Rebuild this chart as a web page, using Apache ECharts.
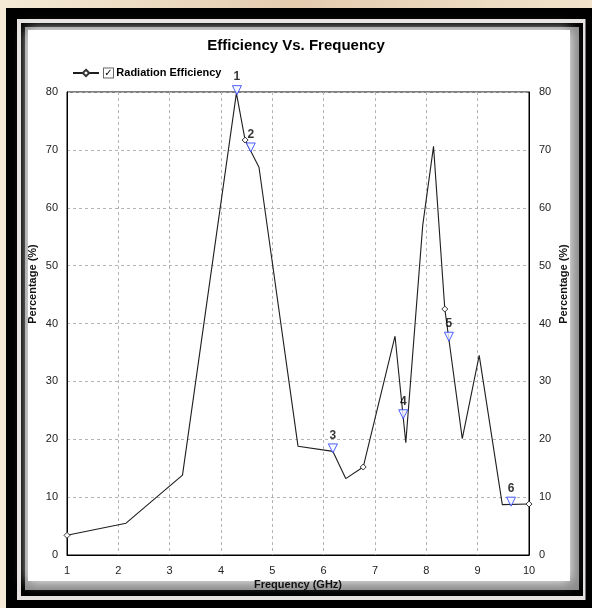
<!DOCTYPE html>
<html><head><meta charset="utf-8">
<script src="https://cdn.jsdelivr.net/npm/echarts@6/dist/echarts.min.js"></script>
<style>html,body{margin:0;padding:0;background:#f1e4cc;}#c{width:592px;height:608px;}</style>
</head><body><div id="c"></div>
<script>
// Data
const freq = [1, 2.15, 3.25, 4.3, 4.47, 4.74, 5.5, 6.18, 6.43, 6.77, 7.39, 7.6, 7.93, 8.14, 8.36, 8.7, 9.03, 9.48, 10];
const eff  = [3.4, 5.5, 13.8, 79.8, 71.7, 67.0, 18.8, 17.9, 13.2, 15.2, 37.8, 19.4, 57.0, 70.6, 42.5, 20.1, 34.5, 8.7, 8.8];
const sampledIdx = [0, 4, 9, 14, 18];           // points drawn with a diamond
const markerFreq = [4.31, 4.58, 6.18, 7.55, 8.44, 9.65];
const markerEff  = [79.8, 69.9, 17.9, 23.8, 37.2, 8.7];
const markerLabels = ['1', '2', '3', '4', '5', '6'];
const seriesName = 'Radiation Efficiency';
const titleText = 'Efficiency Vs. Frequency';
const xName = 'Frequency (GHz)';
const yName = 'Percentage (%)';

const FONT = '"Liberation Sans", Arial, sans-serif';
const chart = echarts.init(document.getElementById('c'), null, {renderer: 'canvas'});

const lineData = freq.map((f, i) => ({
  value: [f, eff[i]],
  symbol: sampledIdx.includes(i) ? 'diamond' : 'none'
}));
const markData = markerFreq.map((f, i) => [f, markerEff[i]]);

const yAxisCommon = {
  type: 'value', min: 0, max: 80, interval: 10,
  axisLine: {show: true, lineStyle: {color: '#000', width: 1}},
  axisTick: {show: false},
  axisLabel: {color: '#222', fontSize: 11, fontFamily: FONT, margin: 9},
  splitLine: {show: true, lineStyle: {color: '#b4b4b4', type: [3, 3], width: 1}}
};

chart.setOption({
  animation: false,
  backgroundColor: 'transparent',
  graphic: [
    {type: 'rect', z: -20, shape: {x: 0, y: 0, width: 592, height: 608},
     style: {fill: new echarts.graphic.LinearGradient(0, 0, 1, 0, [
       {offset: 0, color: '#f4ead6'}, {offset: 0.5, color: '#e4cbae'}, {offset: 1, color: '#f1e3cc'}])}},
    {type: 'rect', z: -19, shape: {x: 6, y: 8, width: 600, height: 620}, style: {fill: '#000'}},
    {type: 'rect', z: -18, shape: {x: 17, y: 19, width: 568.5, height: 581}, style: {fill: '#e6e2e2'}},
    {type: 'rect', z: -17, shape: {x: 21, y: 23, width: 562, height: 573}, style: {fill: '#000'}},
    {type: 'rect', z: -16, shape: {x: 25, y: 27, width: 554, height: 563}, style: {fill: '#8a8a8a'}},
    {type: 'rect', z: -15, shape: {x: 28, y: 30, width: 542, height: 551},
     style: {fill: '#fff', shadowBlur: 12, shadowColor: '#fff'}},
    {type: 'rect', z: -14, shape: {x: 30, y: 32, width: 538, height: 547}, style: {fill: '#fff'}},
    {type: 'text', z: 5, x: 33, y: 284, rotation: Math.PI / 2,
     style: {text: yName, fill: '#111', font: 'bold 11px ' + FONT, align: 'center', verticalAlign: 'middle'}},
    {type: 'text', z: 5, x: 564, y: 284, rotation: Math.PI / 2,
     style: {text: yName, fill: '#111', font: 'bold 11px ' + FONT, align: 'center', verticalAlign: 'middle'}},
    {type: 'text', z: 5, x: 298, y: 585,
     style: {text: xName, fill: '#111', font: 'bold 11px ' + FONT, align: 'center', verticalAlign: 'middle'}}
  ],
  title: {
    text: titleText, left: 'center', top: 33,
    textStyle: {fontSize: 15, fontWeight: 'bold', color: '#000', fontFamily: FONT}
  },
  legend: {
    data: [seriesName], left: 67, top: 62, itemWidth: 26, itemHeight: 8,
    formatter: n => '{box|✓} {t|' + n + '}',
    textStyle: {
      rich: {
        box: {width: 9, height: 9, lineHeight: 10, borderColor: '#666', borderWidth: 1,
              backgroundColor: '#fff', align: 'center', fontSize: 10, color: '#000', fontWeight: 'bold', fontFamily: '"DejaVu Sans", sans-serif'},
        t: {fontSize: 11, fontWeight: 'bold', color: '#000', fontFamily: FONT}
      }
    }
  },
  grid: {left: 67, right: 63, top: 92, bottom: 53, show: true, borderColor: '#000', borderWidth: 1, backgroundColor: '#fff'},
  xAxis: {
    type: 'value', min: 1, max: 10, interval: 1,
    axisLine: {show: true, onZero: false, lineStyle: {color: '#000', width: 1}},
    axisTick: {show: false},
    axisLabel: {color: '#222', fontSize: 11, fontFamily: FONT, margin: 10},
    splitLine: {show: true, lineStyle: {color: '#b4b4b4', type: [3, 3], width: 1}}
  },
  yAxis: [
    Object.assign({position: 'left'}, yAxisCommon),
    Object.assign({position: 'right'}, yAxisCommon, {splitLine: {show: false}, axisLabel: {color: '#222', fontSize: 11, fontFamily: FONT, margin: 10}})
  ],
  series: [
    {
      name: seriesName, type: 'line', data: lineData, symbol: 'diamond', symbolSize: 6,
      showSymbol: true, clip: false,
      lineStyle: {color: '#1e1e1e', width: 1.1},
      itemStyle: {color: '#fff', borderColor: '#333', borderWidth: 1},
      z: 3
    },
    {
      name: 'markers', type: 'scatter', data: markData, symbol: 'triangle', symbolRotate: 180,
      symbolSize: [9, 9], symbolOffset: [0, -3],
      itemStyle: {color: '#f4f6ff', borderColor: '#2438ff', borderWidth: 1},
      label: {show: true, position: 'top', distance: 2, formatter: p => markerLabels[p.dataIndex],
              color: '#000', fontSize: 12, fontWeight: 'bold', fontFamily: FONT},
      z: 4
    }
  ]
});
</script></body></html>
